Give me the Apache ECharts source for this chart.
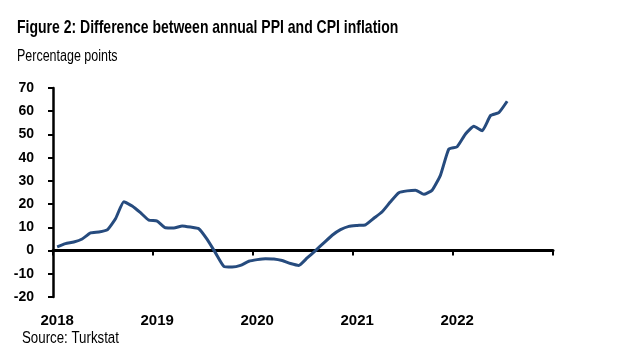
<!DOCTYPE html>
<html>
<head>
<meta charset="utf-8">
<script src="https://cdn.jsdelivr.net/npm/echarts@6/dist/echarts.min.js"></script>
<style>
html,body{margin:0;padding:0;background:#fff;}
#c{width:640px;height:362px;}
</style>
</head>
<body>
<div id="c"></div>
<script>
// Months Jan 2018 - Dec 2022 (category axis)
var years = ['2018', '2019', '2020', '2021', '2022'];
var monthNames = ['01','02','03','04','05','06','07','08','09','10','11','12'];
var categories = [];
years.forEach(function (y) { monthNames.forEach(function (m) { categories.push(y + '-' + m); }); });

// Difference between annual PPI and CPI inflation, percentage points (Jan 2018 - Jul 2022)
var ppiCpiGap = [
  1.6, 3.0, 3.7, 5.0, 7.6, 8.0, 8.9, 13.7, 21.0, 19.2, 16.3, 13.1,
  12.7, 9.8, 9.7, 10.6, 10.1, 9.4, 4.8, -1.0, -6.8, -7.1, -6.4, -4.6,
  -3.9, -3.5, -3.6, -4.3, -5.6, -6.4, -3.2, 0.0, 3.3, 6.6, 9.0, 10.4,
  10.8, 11.1, 13.9, 16.7, 21.0, 24.9, 25.7, 26.0, 24.2, 26.0, 32.5, 43.7,
  44.7, 50.2, 53.5, 51.6, 58.1, 59.4, 64.3
];

var yTicks = { min: -20, max: 70, interval: 10 };

var titleText = 'Figure 2: Difference between annual PPI and CPI inflation';
var subtitleText = 'Percentage points';
var sourceText = 'Source: Turkstat';

var fam = '"Liberation Sans", Arial, sans-serif';

var chart = echarts.init(document.getElementById('c'), null, { renderer: 'canvas' });
chart.setOption({
  animation: false,
  backgroundColor: '#ffffff',
  graphic: [
    { type: 'text', x: 17, y: 18, scaleX: 0.757,
      style: { text: titleText, font: 'bold 18.5px ' + fam, fill: '#000', verticalAlign: 'top' } },
    { type: 'text', x: 17, y: 49, scaleX: 0.78,
      style: { text: subtitleText, font: '16px ' + fam, fill: '#000', verticalAlign: 'top' } },
    { type: 'text', x: 22, y: 331, scaleX: 0.83,
      style: { text: sourceText, font: '16px ' + fam, fill: '#000', verticalAlign: 'top' } }
  ],
  grid: { left: 53, right: 87, top: 88, bottom: 65, containLabel: false },
  xAxis: [
    {
      type: 'category', data: categories, position: 'top', boundaryGap: true,
      axisLine: { onZero: true, lineStyle: { color: '#000', width: 3 } },
      axisTick: { show: true, inside: true, interval: 11, length: 5, lineStyle: { color: '#000', width: 2 } },
      axisLabel: { show: false }, splitLine: { show: false }
    },
    {
      type: 'category', data: categories, position: 'bottom', boundaryGap: true,
      axisLine: { show: false }, axisTick: { show: false }, splitLine: { show: false },
      axisLabel: {
        show: true, margin: 16, color: '#000', fontFamily: fam, fontWeight: 'bold', fontSize: 15,
        interval: function (idx) { return idx % 12 === 0; },
        formatter: function (v) { return v.slice(0, 4); }
      }
    }
  ],
  yAxis: {
    type: 'value', min: yTicks.min, max: yTicks.max, interval: yTicks.interval,
    axisLine: { show: true, lineStyle: { color: '#000', width: 2.5 } },
    axisTick: { show: true, length: 5, lineStyle: { color: '#000', width: 2 } },
    splitLine: { show: false },
    axisLabel: { margin: 19, color: '#000', fontFamily: fam, fontWeight: 'bold', fontSize: 14 }
  },
  series: [{
    type: 'line', xAxisIndex: 0, data: ppiCpiGap, showSymbol: false, smooth: 0.15,
    lineStyle: { color: '#264B7E', width: 3 }, z: 3
  }]
});
</script>
</body>
</html>
